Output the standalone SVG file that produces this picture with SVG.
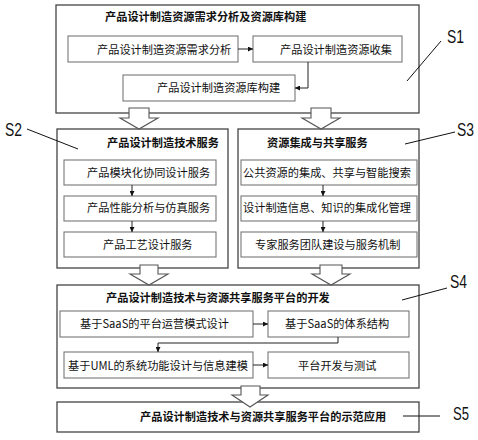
<svg xmlns="http://www.w3.org/2000/svg" width="478" height="440" viewBox="0 0 478 440">
<defs>
<marker id="ah" viewBox="0 0 6 6" refX="6" refY="3" markerWidth="5" markerHeight="5" orient="auto" markerUnits="userSpaceOnUse">
<path d="M0,0 L6,3 L0,6 Z" fill="#111"/>
</marker>
<style>
.outer{fill:#fff;stroke:#444;stroke-width:1.3}
.inner{fill:#fff;stroke:#777;stroke-width:1.1}
.t{font-family:"Noto Sans CJK SC","Noto Sans CJK JP",sans-serif;font-size:11.2px;fill:#111}
.b{font-weight:bold}
.lab{font-family:"Liberation Sans Narrow","Liberation Sans",sans-serif;font-size:18px;fill:#111}
.con{fill:none;stroke:#222;stroke-width:1;marker-end:url(#ah)}
.lead{stroke:#111;stroke-width:1;fill:none}
.big{fill:#fff;stroke:#555;stroke-width:1.1}
</style>
</defs>
<rect width="478" height="440" fill="#fff"/>

<g id="S1">
<rect class="outer" x="56" y="5" width="363" height="108"/>
<text class="t b" x="105" y="21">产品设计制造资源需求分析及资源库构建</text>
<g id="s1a"><rect class="inner" x="68" y="36" width="170" height="26"/><text class="t" x="97" y="54">产品设计制造资源需求分析</text></g>
<g id="s1b"><rect class="inner" x="253" y="36" width="149" height="26"/><text class="t" x="280" y="54">产品设计制造资源收集</text></g>
<g id="s1c"><rect class="inner" x="123" y="75" width="172" height="26"/><text class="t" x="157" y="92">产品设计制造资源库构建</text></g>
</g>

<g id="S2">
<rect class="outer" x="57" y="129" width="171" height="139"/>
<text class="t b" x="107" y="147">产品设计制造技术服务</text>
<g id="s2a"><rect class="inner" x="64" y="160" width="152" height="25"/><text class="t" x="87" y="177">产品模块化协同设计服务</text></g>
<g id="s2b"><rect class="inner" x="64" y="196" width="152" height="25"/><text class="t" x="87" y="212">产品性能分析与仿真服务</text></g>
<g id="s2c"><rect class="inner" x="64" y="232" width="152" height="25"/><text class="t" x="103" y="249">产品工艺设计服务</text></g>
</g>

<g id="S3">
<rect class="outer" x="238" y="129" width="181" height="139"/>
<text class="t b" x="267" y="147">资源集成与共享服务</text>
<g id="s3a"><rect class="inner" x="241" y="160" width="176" height="25"/><text class="t" x="243" y="177">公共资源的集成、共享与智能搜索</text></g>
<g id="s3b"><rect class="inner" x="241" y="196" width="176" height="25"/><text class="t" x="243" y="212">设计制造信息、知识的集成化管理</text></g>
<g id="s3c"><rect class="inner" x="241" y="232" width="176" height="25"/><text class="t" x="255" y="249">专家服务团队建设与服务机制</text></g>
</g>

<g id="S4">
<rect class="outer" x="57" y="285" width="362" height="103"/>
<text class="t b" x="106" y="302">产品设计制造技术与资源共享服务平台的开发</text>
<g id="s4a"><rect class="inner" x="60" y="311" width="193" height="26"/><text class="t" x="80" y="328">基于SaaS的平台运营模式设计</text></g>
<g id="s4b"><rect class="inner" x="268" y="311" width="141" height="26"/><text class="t" x="285" y="328">基于SaaS的体系结构</text></g>
<g id="s4c"><rect class="inner" x="64" y="352" width="189" height="26"/><text class="t" x="68" y="370">基于UML的系统功能设计与信息建模</text></g>
<g id="s4d"><rect class="inner" x="268" y="352" width="141" height="26"/><text class="t" x="298" y="370">平台开发与测试</text></g>
</g>

<g id="S5">
<rect class="outer" x="57" y="402" width="362" height="30"/>
<text class="t b" x="140" y="421">产品设计制造技术与资源共享服务平台的示范应用</text>
</g>

<g id="connectors">
<path class="con" d="M238,49 H253"/>
<path class="con" d="M308,62 V88 H295"/>
<path class="con" d="M132,185 V196"/>
<path class="con" d="M132,221 V232"/>
<path class="con" d="M323,185 V196"/>
<path class="con" d="M323,221 V232"/>
<path class="con" d="M253,324 H268"/>
<path class="con" d="M338,337 V343 H158 V352"/>
<path class="con" d="M253,365 H268"/>
<path class="big" d="M129,108 H149 V118 H158 L139,129 L120,118 H129 Z"/>
<path class="big" d="M311,108 H331 V118 H340 L321,129 L302,118 H311 Z"/>
<path class="big" d="M140,265 H158 V274 H168 L149,285 L130,274 H140 Z"/>
<path class="big" d="M320,265 H342 V274 H350 L331,285 L312,274 H320 Z"/>
<path class="big" d="M241,386 H260 V395 H268 L250,407 L232,395 H241 Z"/>
</g>

<g id="labels">
<path class="lead" d="M441,41 L407,81"/>
<path class="lead" d="M27,129 L78,149"/>
<path class="lead" d="M455,132 L405,144"/>
<path class="lead" d="M447,288 L402,300"/>
<path class="lead" d="M403,416 L440,416"/>
<text class="lab" x="447" y="43" textLength="17" lengthAdjust="spacingAndGlyphs">S1</text>
<text class="lab" x="5" y="136" textLength="17" lengthAdjust="spacingAndGlyphs">S2</text>
<text class="lab" x="457" y="136" textLength="17" lengthAdjust="spacingAndGlyphs">S3</text>
<text class="lab" x="450" y="288" textLength="17" lengthAdjust="spacingAndGlyphs">S4</text>
<text class="lab" x="453" y="420" textLength="16" lengthAdjust="spacingAndGlyphs">S5</text>
</g>
</svg>
